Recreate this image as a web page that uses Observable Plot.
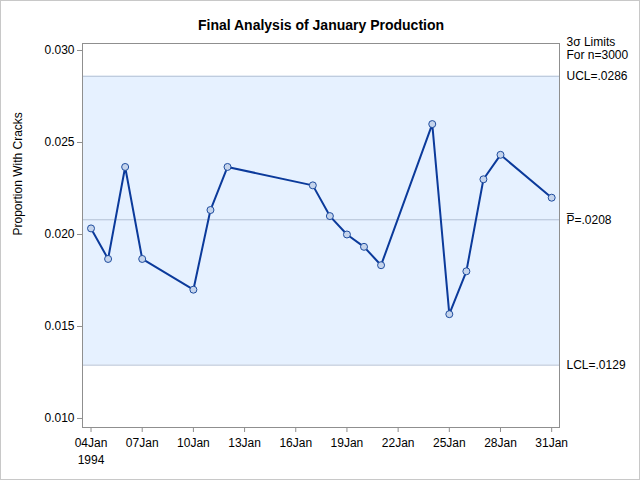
<!DOCTYPE html>
<html><head><meta charset="utf-8">
<script src="https://cdn.jsdelivr.net/npm/d3@7"></script>
<script src="https://cdn.jsdelivr.net/npm/@observablehq/plot@0.6"></script>
<style>
body{margin:0;background:#fff}
svg{outline:1px solid #c8c8c8;outline-offset:-1px}
</style>
</head><body><div id="chart"></div>
<script>
const title = "Final Analysis of January Production";
const yLabel = "Proportion With Cracks";
const dates = ["1994-01-04","1994-01-05","1994-01-06","1994-01-07","1994-01-10","1994-01-11","1994-01-12","1994-01-17","1994-01-18","1994-01-19","1994-01-20","1994-01-21","1994-01-24","1994-01-25","1994-01-26","1994-01-27","1994-01-28","1994-01-31"];
const proportions = [0.02033,0.01867,0.02367,0.01867,0.01700,0.02133,0.02367,0.02267,0.02100,0.02000,0.01933,0.01833,0.02600,0.01567,0.01800,0.02300,0.02433,0.02200];
const limitNames = ["LCL","Center","UCL"];
const limitValues = [0.0129, 0.0208, 0.0286];
const limitLabels = ["LCL=.0129", "P\u0305=.0208", "UCL=.0286"];
const limitsHeader = ["3\u03C3 Limits", "For n=3000"];
const yTicks = [0.010, 0.015, 0.020, 0.025, 0.030];
const xTickDates = ["1994-01-04","1994-01-07","1994-01-10","1994-01-13","1994-01-16","1994-01-19","1994-01-22","1994-01-25","1994-01-28","1994-01-31"];
const yearLabel = "1994";

const parse = d3.utcParse("%Y-%m-%d");
const data = dates.map((d, i) => ({date: parse(d), p: proportions[i]}));
const limits = limitNames.map((n, i) => ({name: n, value: limitValues[i], label: limitLabels[i]}));
const xDomain = [new Date(Date.UTC(1994,0,3,12)), new Date(Date.UTC(1994,0,31,11))];
const xTicks = xTickDates.map(parse);
const fmt = d3.utcFormat("%d%b");
const lcl = limitValues[0], ucl = limitValues[2];

const chart = Plot.plot({
  width: 640, height: 480,
  marginLeft: 82, marginRight: 81, marginTop: 43, marginBottom: 53,
  style: {fontFamily: "'Liberation Sans', Arial, sans-serif", fontSize: "12px", background: "#fff", color: "#000"},
  x: {type: "utc", domain: xDomain},
  y: {domain: [0.00951, 0.03038]},
  marks: [
    Plot.rect([0], {x1: () => xDomain[0], x2: () => xDomain[1], y1: () => lcl, y2: () => ucl, fill: "#E6F1FF"}),
    Plot.ruleY(limits, {y: "value", stroke: "#B3C0D4", strokeWidth: 1}),
    Plot.frame({stroke: "#8F8F8F"}),
    Plot.axisY(yTicks, {tickFormat: ".3f", tickSize: 5, tickPadding: 3, stroke: "#8F8F8F", fill: "#000", label: null, fontSize: 12}),
    Plot.axisX(xTicks, {tickFormat: (d, i) => i === 0 ? fmt(d) + "\n" + yearLabel : fmt(d), tickSize: 5, tickPadding: 3, stroke: "#8F8F8F", fill: "#000", label: null, fontSize: 12, lineHeight: 1.4}),
    Plot.line(data, {x: "date", y: "p", stroke: "#0B3A9B", strokeWidth: 2}),
    Plot.dot(data, {x: "date", y: "p", r: 3.5, fill: "#C5D4EC", stroke: "#1E4C9E", strokeWidth: 1}),
    Plot.text(limits, {x: () => xDomain[1], y: "value", text: "label", textAnchor: "start", dx: 7, fontSize: 12}),
    Plot.text([limitsHeader[0]], {frameAnchor: "top-right", textAnchor: "start", dx: 7, dy: -6, fontSize: 12}),
    Plot.text([limitsHeader[1]], {frameAnchor: "top-right", textAnchor: "start", dx: 7, dy: 7, fontSize: 12}),
    Plot.text([title], {frameAnchor: "top", dy: -23, fontSize: 14, fontWeight: "bold"}),
    Plot.text([yLabel], {frameAnchor: "left", rotate: -90, dx: -64, fontSize: 12})
  ]
});
document.getElementById("chart").appendChild(chart);
</script>
</body></html>
